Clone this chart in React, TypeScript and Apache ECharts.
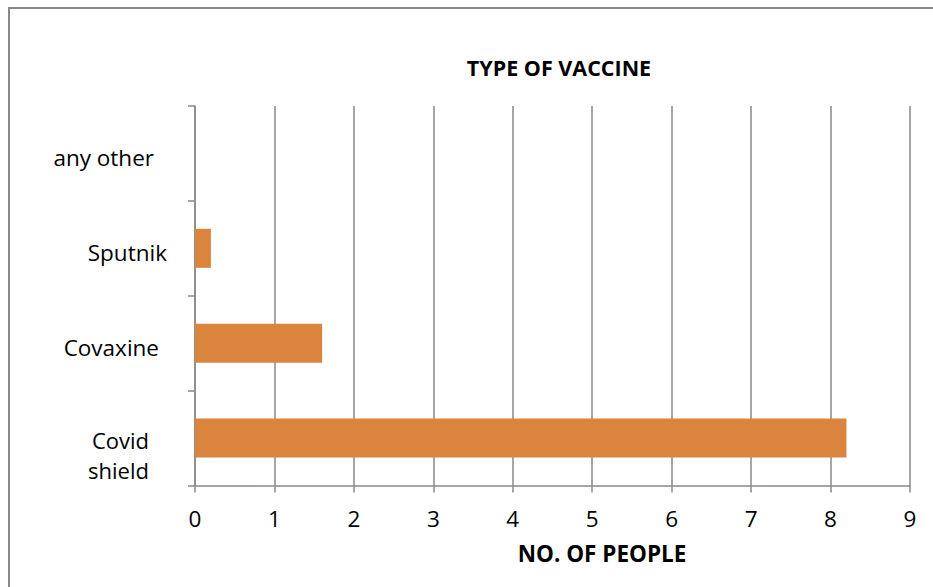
import React, { useEffect, useRef } from "react";
import * as echarts from "echarts";

const categories = ["Covid shield", "Covaxine", "Sputnik", "any other"];
const values = [8.2, 1.6, 0.2, 0];
const xTicks = [0, 1, 2, 3, 4, 5, 6, 7, 8, 9];
const titleText = "TYPE OF VACCINE";
const xAxisTitle = "NO. OF PEOPLE";

const labelPad: Record<string, number> = {
  "Covid shield": 46,
  Covaxine: 36,
  Sputnik: 28,
  "any other": 41,
};

export default function App() {
  const ref = useRef<HTMLDivElement>(null);
  useEffect(() => {
    if (!ref.current) return;
    const chart = echarts.init(ref.current, undefined, { renderer: "svg" });
    const font = "'Open Sans', sans-serif";
    const rich: Record<string, any> = {
      sp: { fontSize: 8, lineHeight: 33, color: "#000", fontFamily: font },
    };
    categories.forEach((c, i) => {
      rich["c" + i] = {
        fontSize: i === 0 ? 22 : 22.5,
        fontFamily: font,
        color: "#000",
        align: "right",
        padding: [i === 0 ? 0 : 8, labelPad[c], 0, 0],
        lineHeight: i === 0 ? 30 : 26,
      };
    });
    chart.setOption({
      animation: false,
      backgroundColor: "#fff",
      grid: { left: 195, right: 23, top: 106, bottom: 101.5 },
      xAxis: {
        type: "value",
        min: xTicks[0],
        max: xTicks[xTicks.length - 1],
        interval: 1,
        axisLine: { show: true, lineStyle: { color: "#888", width: 1.5 } },
        axisTick: { show: true, length: 7, lineStyle: { color: "#888", width: 1.5 } },
        splitLine: { show: true, lineStyle: { color: "#888", width: 1.5 } },
        axisLabel: { fontSize: 22.5, fontFamily: font, color: "#000", margin: 21 },
      },
      yAxis: {
        type: "category",
        data: categories,
        axisLine: { show: true, lineStyle: { color: "#888", width: 1.5 } },
        axisTick: { show: true, length: 7, lineStyle: { color: "#888", width: 1.5 } },
        axisLabel: {
          margin: 0,
          formatter: (v: string) => {
            const i = categories.indexOf(v);
            if (v === "Covid shield") {
              return `{sp|\u00a0}\n{c${i}|Covid}\n{c${i}|shield}`;
            }
            return `{c${i}|${v}}`;
          },
          rich,
        },
      },
      series: [
        {
          type: "bar",
          data: values,
          barWidth: 39,
          itemStyle: { color: "#DB843D" },
        },
      ],
      graphic: [
        {
          type: "rect",
          shape: { x: 9, y: 8, width: 940, height: 600 },
          style: { fill: "none", stroke: "#888", lineWidth: 2 },
          silent: true,
        },
        {
          type: "text",
          x: 559,
          y: 67,
          style: {
            text: titleText,
            align: "center",
            verticalAlign: "middle",
            fontSize: 21.5,
            fontWeight: "bold",
            fontFamily: font,
            fill: "#000",
          },
        },
        {
          type: "text",
          x: 602,
          y: 553,
          style: {
            text: xAxisTitle,
            align: "center",
            verticalAlign: "middle",
            fontSize: 22.5,
            fontWeight: "bold",
            fontFamily: font,
            fill: "#000",
          },
        },
      ],
    });
    return () => chart.dispose();
  }, []);
  return (
    <div
      ref={ref}
      style={{ position: "fixed", left: 0, top: 0, width: 933, height: 587 }}
    />
  );
}
